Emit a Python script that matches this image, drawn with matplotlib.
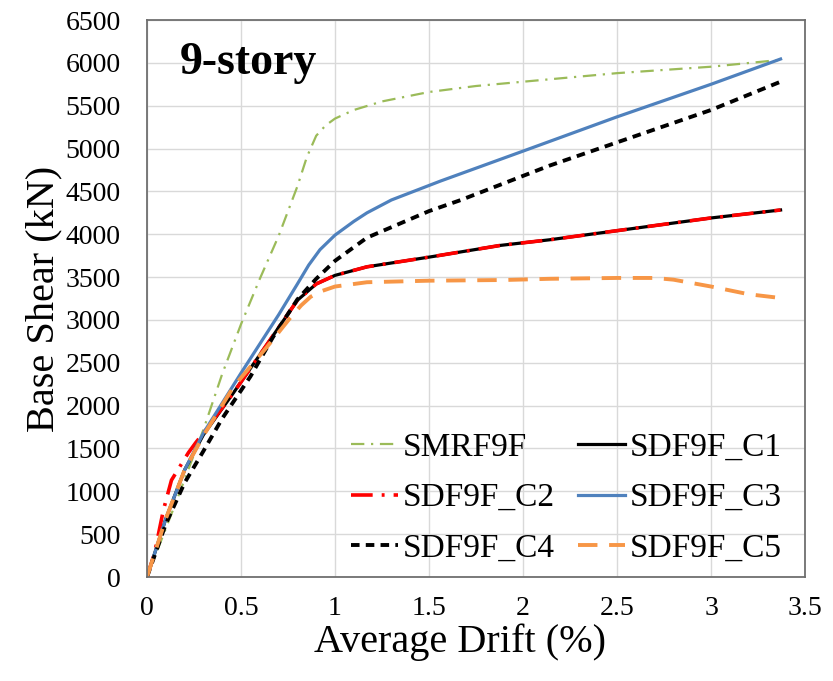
import numpy as np
import matplotlib.pyplot as plt

# pushover curves, drift (%) vs base shear (kN)
smrf_x = [0, 0.15, 0.3, 0.4, 0.5, 0.6, 0.7, 0.8, 0.85, 0.9, 0.95, 1.0, 1.1, 1.25, 1.5, 1.75, 2.0, 2.5, 3.0, 3.37]
smrf_y = [0, 850, 1720, 2370, 2950, 3480, 3980, 4560, 4900, 5150, 5270, 5350, 5450, 5550, 5660, 5730, 5780, 5880, 5955, 6035]

c1_x = [0, 0.1, 0.2, 0.3, 0.46, 0.64, 0.8, 0.9, 1.0, 1.17, 1.52, 1.88, 2.14, 3.0, 3.37]
c1_y = [0, 680, 1250, 1660, 2150, 2720, 3230, 3420, 3520, 3620, 3740, 3870, 3935, 4190, 4283]

c2_x = [0, 0.04, 0.087, 0.13, 0.175, 0.22, 0.26, 0.3, 0.46, 0.64, 0.8, 0.9, 1.0, 1.17, 1.52, 1.88, 2.14, 3.0, 3.37]
c2_y = [0, 280, 780, 1130, 1290, 1450, 1570, 1680, 2150, 2720, 3230, 3420, 3520, 3620, 3740, 3870, 3935, 4190, 4283]

c3_x = [0, 0.1, 0.2, 0.3, 0.4, 0.5, 0.6, 0.7, 0.8, 0.86, 0.92, 1.0, 1.1, 1.17, 1.3, 1.56, 2.0, 2.5, 3.0, 3.37]
c3_y = [0, 680, 1250, 1680, 2030, 2380, 2720, 3060, 3420, 3640, 3820, 3990, 4150, 4250, 4400, 4620, 4970, 5370, 5750, 6045]

c4_x = [0, 0.1, 0.2, 0.3, 0.4, 0.55, 0.67, 0.8, 0.9, 1.0, 1.17, 1.5, 1.67, 2.14, 3.0, 3.37]
c4_y = [0, 620, 1100, 1470, 1850, 2340, 2800, 3240, 3480, 3690, 3960, 4270, 4400, 4800, 5450, 5780]

c5_x = [0, 0.1, 0.2, 0.3, 0.46, 0.64, 0.76, 0.82, 0.87, 0.92, 1.0, 1.17, 1.5, 1.9, 2.14, 2.5, 2.7, 2.8, 3.0, 3.2, 3.37]
c5_y = [0, 680, 1250, 1650, 2220, 2690, 3020, 3170, 3270, 3330, 3390, 3440, 3458, 3466, 3480, 3490, 3490, 3470, 3390, 3300, 3256]

labels = ["SMRF9F", "SDF9F_C1", "SDF9F_C2", "SDF9F_C3", "SDF9F_C4", "SDF9F_C5"]
xticks = np.arange(0, 3.51, 0.5)
yticks = np.arange(0, 6501, 500)

plt.rcParams['font.family'] = ['Liberation Serif', 'DejaVu Serif']

fig = plt.figure(figsize=(8.33, 6.81), dpi=100)
ax = fig.add_axes([0.1765, 0.1527, 0.7899, 0.8179])

l0, = ax.plot(smrf_x, smrf_y, color="#9BBB59", lw=1.6, ls=(0, (6, 3, 1, 3)), label=labels[0])
l1, = ax.plot(c1_x, c1_y, color="black", lw=2.3, label=labels[1])
l2, = ax.plot(c2_x, c2_y, color="red", lw=2.6, ls=(0, (6, 2.5, 0.8, 2.5)), label=labels[2])
l3, = ax.plot(c3_x, c3_y, color="#4F81BD", lw=2.3, label=labels[3])
l4, = ax.plot(c4_x, c4_y, color="black", lw=2.8, ls=(0, (2.2, 1.6)), label=labels[4])
l5, = ax.plot(c5_x, c5_y, color="#F79646", lw=2.8, ls=(0, (5, 3)), label=labels[5])

ax.set_xlim(0, 3.5)
ax.set_ylim(0, 6500)
ax.set_xticks(xticks)
ax.set_xticklabels(["0", "0.5", "1", "1.5", "2", "2.5", "3", "3.5"])
ax.set_yticks(yticks)
ax.grid(True, color="#D9D9D9", lw=1)
ax.set_axisbelow(True)
ax.tick_params(length=0, labelsize=20)
ax.tick_params(axis="y", pad=19)
ax.tick_params(axis="x", pad=14)
for s in ax.spines.values():
    s.set_color("#6F6F6F")
    s.set_linewidth(1.3)

ax.set_xlabel("Average Drift (%)", fontsize=29)
ax.xaxis.set_label_coords(0.475, -0.084, transform=ax.transAxes)
ax.xaxis.label.set_va("top")
ax.set_ylabel("Base Shear (kN)", fontsize=29, labelpad=2)

ax.text(0.05, 0.903, "9-story", transform=ax.transAxes, fontsize=33,
        fontweight="bold", ha="left", va="baseline")

# legend filled row-wise like the original
handles = [l0, l2, l4, l1, l3, l5]
ax.legend(handles, [h.get_label() for h in handles], ncol=2, loc="lower left",
          bbox_to_anchor=(0.29, 0.0), frameon=False, fontsize=24,
          handlelength=1.4, handletextpad=0.15, columnspacing=0.7,
          labelspacing=0.6, borderpad=0.0, borderaxespad=0.4)

fig.savefig("out.png", dpi=100)
